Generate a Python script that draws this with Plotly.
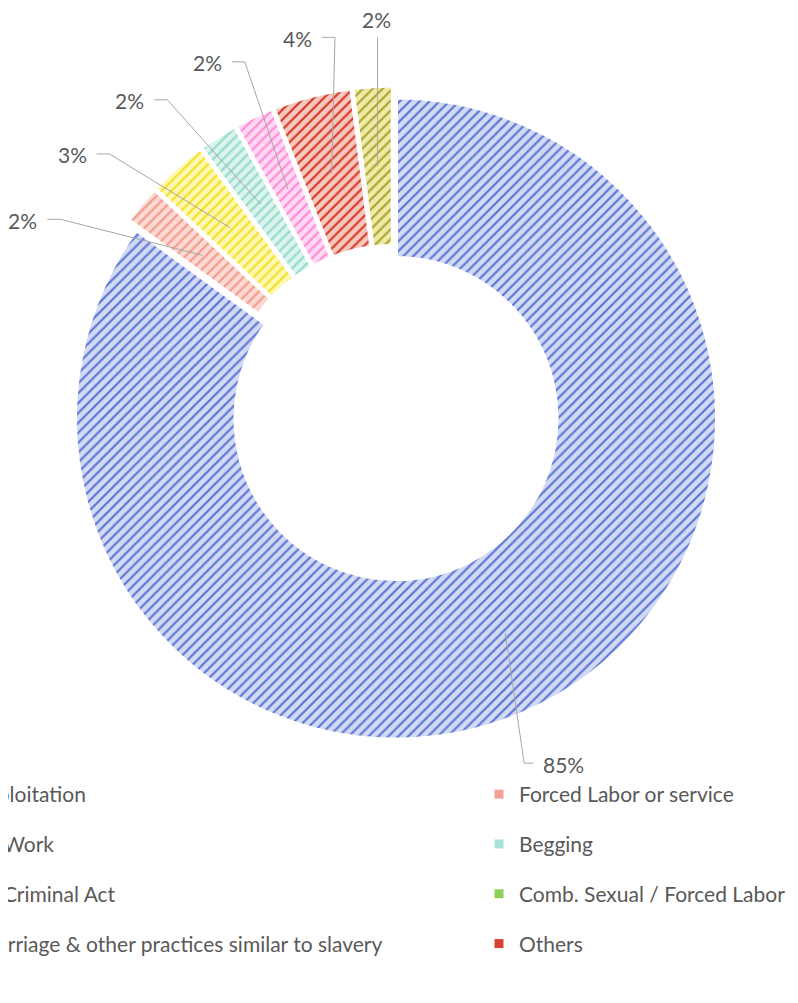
import math
import plotly.graph_objects as go

# ---------------- data ----------------
categories = [
    "Sexual Exploitation",
    "Forced Labor or service",
    "Domestic Work",
    "Begging",
    "Forced to Criminal Act",
    "Comb. Sexual / Forced Labor",
    "Others",
    "Forced Marriage & other practices similar to slavery",
]
shares = [85, 2, 3, 2, 2, 0, 4, 2]   # percent
legend_col1 = [0, 2, 4, 7]
legend_col2 = [1, 3, 5, 6]

# ---------------- styles ----------------
slice_fg = ["#5D77D6", "#F39A8A", "#F4E02A", "#94DBC9", "#FF8AD8", "#92D050", "#D83A26", "#ABA438"]
slice_bg = ["#D3DAF4", "#FCDAD3", "#FFF8B0", "#DCF4EE", "#FFD8F2", "#DDF0C8", "#F6C8C0", "#EFEBA5"]
legend_fg = ["#7088DA", "#F5A095", "#F5E550", "#A8E5D8", "#FF9ADC", "#8FD05A", "#D84030", "#C8C060"]

OFF = 8                     # default page (body) margin of the html page
W, H = 790, 985             # figure size (fits the window with the body margin)
CX, CY = 393.1, 412.9       # pie centre (page px)
R = 321                     # outer radius (px)
HOLE = 0.5
PULL = 0.02
FONT = "Lato"
TXT = "#595959"
LINE = "#A6A6A6"

# label elbow placement (angle clockwise from 12 o'clock, distance from centre)
label_elbow = {0: (159.5, 374), 1: (300.2, 385), 2: (312.4, 384), 3: (324.2, 386),
               4: (337.1, 381), 6: (351.2, 380), 7: (357.5, 376)}


def px2paper(x, y):
    return (x - OFF) / W, 1 - (y - OFF) / H


box = 2 * R * (1 + PULL)
x0p, y1p = px2paper(CX - box / 2, CY + box / 2)
x1p, y0p = px2paper(CX + box / 2, CY - box / 2)

idx = [i for i, v in enumerate(shares) if v > 0]

fig = go.Figure()
fig.add_trace(go.Pie(
    labels=[categories[i] for i in idx],
    values=[shares[i] for i in idx],
    sort=False, direction="clockwise", rotation=0,
    hole=HOLE, pull=PULL,
    textinfo="none", showlegend=False, hoverinfo="label+percent",
    domain=dict(x=[x0p, x1p], y=[y1p, y0p]),
    marker=dict(
        colors=[slice_fg[i] for i in idx],
        line=dict(color="white", width=4),
        pattern=dict(shape="/", bgcolor=[slice_bg[i] for i in idx],
                     size=7, solidity=0.32, fillmode="replace"),
    ),
))

total = sum(shares[i] for i in idx)
cum = 0.0
shapes, annotations = [], []
r_anchor = R * (1 + HOLE) / 2 + PULL * R
for i in idx:
    v = shares[i]
    mid = (cum + v / 2) / total * 2 * math.pi
    cum += v
    ax_ = CX + r_anchor * math.sin(mid)
    ay_ = CY - r_anchor * math.cos(mid)
    ang, rad = label_elbow[i]
    a = math.radians(ang)
    ex = CX + rad * math.sin(a)
    ey = CY - rad * math.cos(a)
    text = f"{v}%"
    if abs(((ang + 180) % 360) - 180) < 4:      # label straight above
        ex = ax_
        pts = [(ax_, ay_), (ex, ey)]
        tx, ty, xa, ya = ex - 1, ey - 3, "center", "bottom"
    elif ex < CX:
        sx = ex - 13
        pts = [(ax_, ay_), (ex, ey), (sx, ey)]
        tx, ty, xa, ya = sx - 8, ey + 1, "right", "middle"
    else:
        sx = ex + 9
        pts = [(ax_, ay_), (ex, ey), (sx, ey)]
        tx, ty, xa, ya = sx + 8, ey + 1, "left", "middle"
    path = "M " + " L ".join("%.4f,%.4f" % px2paper(px, py) for px, py in pts)
    shapes.append(dict(type="path", path=path, xref="paper", yref="paper",
                       line=dict(color=LINE, width=1), layer="above"))
    px_, py_ = px2paper(tx, ty)
    annotations.append(dict(x=px_, y=py_, xref="paper", yref="paper", text=text,
                            showarrow=False, xanchor=xa, yanchor=ya,
                            font=dict(family=FONT, size=21, color=TXT)))

# legend entries
for col, lname in ((legend_col1, "legend"), (legend_col2, "legend2")):
    for i in col:
        fig.add_trace(go.Scatter(
            x=[None], y=[None], mode="markers", name=categories[i],
            marker=dict(symbol="square", size=9, color=legend_fg[i]),
            legend=lname, legendgroup="g%d" % i, hoverinfo="skip",
        ))

X0 = -90          # left edge of first legend column text (page px)
LEG_TOP = 774
legend_common = dict(xanchor="left", yanchor="top", y=px2paper(0, LEG_TOP)[1],
                     font=dict(family=FONT, size=21, color=TXT),
                     tracegroupgap=19.5, bgcolor="rgba(0,0,0,0)", borderwidth=0)

fig.update_layout(
    width=W, height=H,
    margin=dict(l=0, r=0, t=0, b=0, autoexpand=False),
    paper_bgcolor="white", plot_bgcolor="white",
    xaxis=dict(visible=False), yaxis=dict(visible=False),
    shapes=shapes, annotations=annotations,
    legend=dict(x=px2paper(X0 - 40, 0)[0], **legend_common),
    legend2=dict(x=px2paper(519 - 40, 0)[0], **legend_common),
    showlegend=True,
)

fig.write_html("out.html")
